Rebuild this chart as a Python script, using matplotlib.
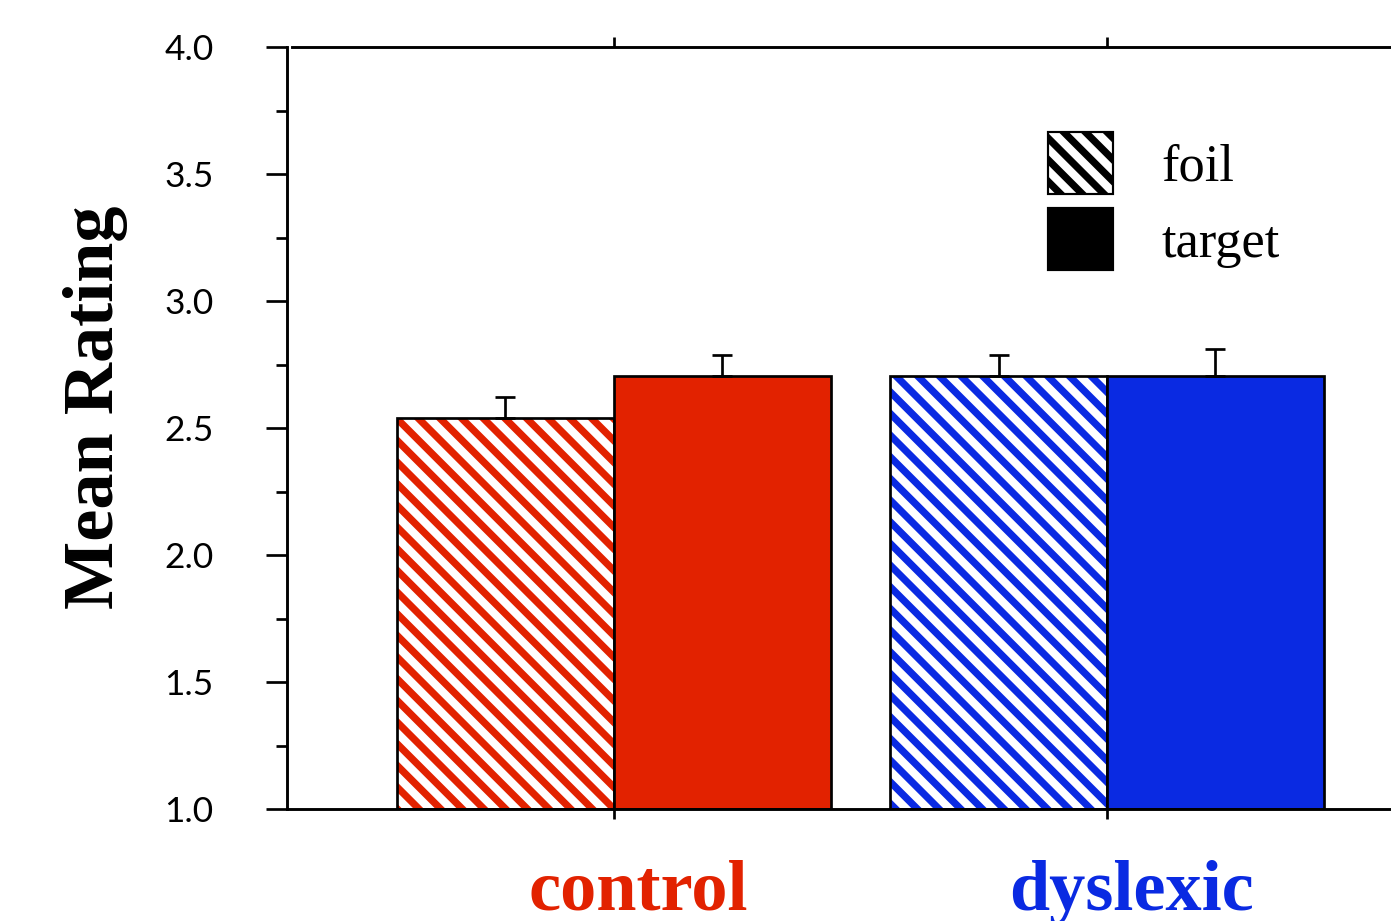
import matplotlib
matplotlib.use('Agg')
import matplotlib.pyplot as plt
from matplotlib.patches import Patch
from matplotlib.ticker import MultipleLocator, FormatStrFormatter
import numpy as np

# Data
groups = ['control', 'dyslexic']
conditions = ['foil', 'target']
foil_means = [2.54, 2.705]
target_means = [2.705, 2.705]
foil_err = [0.084, 0.084]
target_err = [0.081, 0.106]
group_colors = ['#E22200', '#0A2AE2']

# dpi 130 keeps the hatch spacing close to the original
DPI = 130
plt.rcParams['hatch.linewidth'] = 4.0
HATCH = '\\\\'

fig = plt.figure(figsize=(1391 / DPI, 921 / DPI), dpi=DPI)
ax = fig.add_axes([287 / 1391, 112 / 921, 1104 / 1391, 762 / 921])

ymin, ymax = 1.0, 4.0
x = np.arange(len(groups))
width = 0.44

for i, g in enumerate(groups):
    col = group_colors[i]
    xf = x[i] - width / 2
    xt = x[i] + width / 2
    # foil: hatched in group colour, black outline drawn on top
    ax.bar(xf, foil_means[i] - ymin, width, bottom=ymin, facecolor='white',
           edgecolor=col, hatch=HATCH, linewidth=0, zorder=1)
    ax.bar(xf, foil_means[i] - ymin, width, bottom=ymin, facecolor='none',
           edgecolor='black', linewidth=1.5, zorder=1.5)
    # target: solid fill
    ax.bar(xt, target_means[i] - ymin, width, bottom=ymin, facecolor=col,
           edgecolor='black', linewidth=1.5, zorder=1.5)
    # upward-only error bars
    ax.errorbar([xf, xt], [foil_means[i], target_means[i]],
                yerr=[[0, 0], [foil_err[i], target_err[i]]],
                fmt='none', ecolor='black', elinewidth=1.5, capsize=5.8,
                capthick=1.5, zorder=3)

ax.set_xlim(-0.663, 1.576)
ax.set_ylim(ymin, ymax)

ax.spines['right'].set_visible(False)
for s in ['left', 'top', 'bottom']:
    ax.spines[s].set_linewidth(1.6)
ax.spines['top'].set_bounds(-0.653, 1.576)

ax.yaxis.set_major_locator(MultipleLocator(0.5))
ax.yaxis.set_minor_locator(MultipleLocator(0.25))
ax.yaxis.set_major_formatter(FormatStrFormatter('%.1f'))
ax.tick_params(axis='y', which='major', direction='out', length=11.6,
               width=1.5, pad=29, labelsize=19.5)
ax.tick_params(axis='y', which='minor', direction='out', length=6, width=1.5)
for lab in ax.get_yticklabels():
    lab.set_fontfamily(['Lato', 'DejaVu Sans'])

ax.set_xticks(x)
ax.set_xticklabels([])
ax.tick_params(axis='x', which='both', direction='out', length=5.8, width=1.5,
               top=True, bottom=True)

# category labels, coloured per group
for i, g in enumerate(groups):
    ax.text(x[i] + 0.05, -0.1325, g, transform=ax.get_xaxis_transform(),
            ha='center', va='baseline', color=group_colors[i],
            fontsize=40, fontweight='bold', family=['Liberation Serif'])

fig.text(95 / 1391, 0.5575, 'Mean Rating', rotation=90, ha='center', va='center',
         fontsize=40, fontweight='bold', family=['Liberation Serif'])

handles = [Patch(facecolor='white', edgecolor='black', hatch=HATCH, linewidth=1.2),
           Patch(facecolor='black', edgecolor='black', linewidth=1.2)]
ax.legend(handles, conditions, loc='upper left',
          bbox_to_anchor=(1048 / 1391, 1 - 132 / 921), bbox_transform=fig.transFigure,
          frameon=False, borderpad=0, borderaxespad=0, handlelength=1.25,
          handleheight=1.45, labelspacing=0.27, handletextpad=0.92,
          prop={'family': 'Liberation Serif', 'size': 29})

plt.savefig('out.png', dpi=DPI)
